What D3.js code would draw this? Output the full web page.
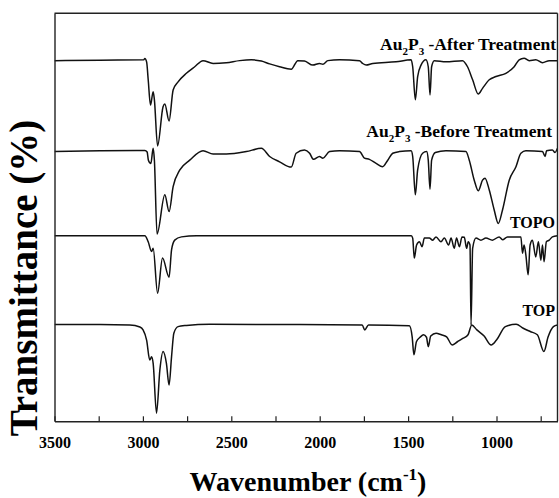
<!DOCTYPE html>
<html>
<head>
<meta charset="utf-8">
<script src="https://cdn.jsdelivr.net/npm/d3@7/dist/d3.min.js"></script>
<style>
  html, body { margin: 0; padding: 0; background: #fff; }
  svg { display: block; }
  text { font-family: "Liberation Serif", "Times New Roman", serif; font-weight: bold; fill: #000; }
</style>
</head>
<body>
<svg id="chart" width="559" height="498"></svg>
<script>
// ---- data: [wavenumber (cm-1), transmittance (a.u., stacked offset)] ----
const afterTreatment = [
  [3500,88.4],[3243,88.5],[2995,88.6],[2989,88.9],[2979,88.1],[2970,83.7],[2957,77.5],[2942,80.8],[2935,78.8],
  [2917,67.5],[2886,77.1],[2876,77.8],[2852,73.6],[2829,81.2],[2801,83.2],[2754,85.3],[2707,86.9],
  [2660,88.4],[2603,87.7],[2528,87.9],[2453,88.4],[2387,88.6],[2330,88.3],[2283,87.6],[2227,86.9],
  [2161,86.3],[2124,88.4],[2086,88.3],[2039,87.3],[2001,87.7],[1982,87.5],[1954,88.4],[1888,88.6],
  [1775,88.4],[1757,87.7],[1737,87.3],[1700,87.7],[1568,88.1],[1483,88.6],[1474,86.9],[1459,78.8],
  [1446,84.5],[1427,87.3],[1399,88.6],[1386,86.9],[1376,80.0],[1367,86.9],[1352,88.4],[1286,88.1],
  [1192,88.4],[1164,86.9],[1135,83.7],[1103,80.2],[1079,81.6],[1041,83.7],[1003,84.5],[947,85.3],
  [900,86.9],[872,88.6],[844,89.0],[815,88.4],[778,88.6],[740,87.9],[702,88.4],[655,88.4]
];
const beforeTreatment = [
  [3500,66.1],[3243,66.3],[2989,66.4],[2976,66.0],[2969,64.0],[2955,63.2],[2942,66.9],[2935,64.0],
  [2920,45.9],[2876,55.5],[2852,51.4],[2829,57.5],[2791,61.6],[2735,64.0],[2660,66.3],[2603,65.5],
  [2528,65.5],[2415,66.1],[2330,66.9],[2283,64.9],[2227,63.6],[2161,62.3],[2133,65.7],[2086,66.5],
  [2057,65.7],[2035,64.2],[2001,64.9],[1982,64.5],[1944,66.1],[1888,66.3],[1775,66.1],[1747,64.5],
  [1719,64.2],[1681,63.2],[1644,62.4],[1615,64.0],[1587,65.7],[1549,66.1],[1483,66.3],[1474,64.9],
  [1459,55.5],[1446,61.6],[1418,65.7],[1395,66.1],[1386,64.0],[1376,56.9],[1367,64.0],[1346,65.9],
  [1286,66.3],[1173,66.1],[1154,64.0],[1126,59.1],[1103,56.5],[1079,59.1],[1065,59.6],[1041,56.7],
  [1013,51.8],[990,48.5],[966,51.8],[928,59.1],[890,62.4],[862,65.7],[834,66.3],[740,66.1],
  [725,64.9],[717,66.3],[684,66.5],[669,65.9],[655,66.9]
];
const topo = [
  [3500,45.5],[3243,45.5],[2989,45.5],[2970,44.0],[2951,41.6],[2942,42.4],[2917,31.4],[2889,40.0],
  [2852,35.3],[2838,42.0],[2820,44.4],[2782,45.2],[2697,45.5],[1482,45.5],[1474,44.9],[1465,40.0],
  [1452,43.2],[1436,44.0],[1421,42.8],[1408,44.9],[1380,44.9],[1361,44.4],[1342,45.2],[1314,44.0],
  [1295,44.9],[1271,43.2],[1257,44.9],[1239,42.4],[1226,44.9],[1210,42.8],[1195,45.2],[1182,45.1],
  [1169,42.4],[1160,44.0],[1150,43.2],[1144,23.6],[1135,42.4],[1116,44.9],[1088,44.4],[1060,44.9],
  [1023,44.4],[985,45.2],[966,44.5],[938,45.2],[862,45.2],[853,41.2],[844,43.2],[834,40.8],
  [821,35.9],[810,43.2],[797,44.4],[778,40.3],[763,44.0],[749,39.5],[740,43.2],[731,39.1],
  [718,44.0],[702,44.4],[684,45.2],[655,45.5]
];
const top_ = [
  [3500,23.7],[3243,23.7],[3074,23.6],[3017,23.1],[2999,22.4],[2979,19.9],[2961,15.0],[2951,15.8],
  [2942,14.2],[2923,2.0],[2904,12.6],[2886,17.1],[2867,14.2],[2852,8.9],[2838,15.8],[2825,21.6],
  [2801,23.2],[2754,23.5],[2622,23.8],[2114,23.7],[1760,23.6],[1745,22.4],[1724,23.6],[1493,23.4],
  [1477,20.7],[1467,16.3],[1453,19.5],[1432,20.6],[1413,21.2],[1396,20.6],[1386,18.3],[1372,20.9],
  [1342,21.6],[1312,21.2],[1282,20.7],[1251,18.7],[1221,19.5],[1191,20.3],[1161,21.2],[1140,23.6],
  [1111,22.4],[1070,20.9],[1030,18.7],[1000,19.9],[950,23.2],[889,23.8],[849,22.8],[809,22.0],
  [769,21.2],[732,17.1],[708,20.7],[678,23.2],[655,23.6]
];
const seriesList = [afterTreatment, beforeTreatment, topo, top_];
const xTickValues = [3500,3250,3000,2750,2500,2250,2000,1750,1500,1250,1000,750];
const xLabelValues = [3500,3000,2500,2000,1500,1000];

// ---- layout ----
const svg = d3.select("#chart");
const left = 54.5, right = 557.5, topY = 13.3, bottom = 421.3;
const x = d3.scaleLinear().domain([3500, 655]).range([left, right]);
const y = d3.scaleLinear().domain([0, 100]).range([bottom, topY]);

svg.append("defs").append("clipPath").attr("id", "clip")
  .append("rect").attr("x", left).attr("y", topY).attr("width", right - left).attr("height", bottom - topY);

// spectra
const line = d3.line().x(d => x(d[0])).y(d => y(d[1])).curve(d3.curveMonotoneX);
svg.append("g").attr("clip-path", "url(#clip)")
  .selectAll("path").data(seriesList).join("path")
  .attr("d", line).attr("fill", "none").attr("stroke", "#111")
  .attr("stroke-width", 1.5).attr("stroke-linejoin", "round");

// axes
const xAxis = d3.axisBottom(x).tickValues(xTickValues)
  .tickFormat(d => xLabelValues.includes(d) ? d : "")
  .tickSizeInner(-5).tickSizeOuter(0).tickPadding(15);
const gx = svg.append("g").attr("transform", `translate(0,${bottom})`).call(xAxis);
gx.selectAll("text").style("font-size", "16px").style("font-family", '"Liberation Serif", serif').style("font-weight", "bold");
gx.select(".domain").attr("stroke", "#222").attr("stroke-width", 1.4);
gx.selectAll(".tick line").attr("stroke", "#222").attr("stroke-width", 1.2);

const yAxis = d3.axisLeft(y).tickValues([]).tickSizeOuter(0);
const gy = svg.append("g").attr("transform", `translate(${left},0)`).call(yAxis);
gy.select(".domain").attr("stroke", "#222").attr("stroke-width", 1.4);

svg.append("line").attr("x1", left).attr("x2", right).attr("y1", topY).attr("y2", topY)
  .attr("stroke", "#222").attr("stroke-width", 1.4);
svg.append("line").attr("x1", right).attr("x2", right).attr("y1", topY).attr("y2", bottom)
  .attr("stroke", "#222").attr("stroke-width", 1.4);

// axis titles
const xt = svg.append("text").attr("x", (left + right) / 2 + 2).attr("y", 491)
  .attr("text-anchor", "middle").style("font-size", "28px");
xt.append("tspan").text("Wavenumber (cm");
xt.append("tspan").text("-1").attr("dy", -11).style("font-size", "17px");
xt.append("tspan").text(")").attr("dy", 11);

svg.append("text").attr("transform", "translate(37,278) rotate(-90)")
  .attr("text-anchor", "middle").style("font-size", "39px").text("Transmittance (%)");

// series labels
function auLabel(xEnd, yBase, suffix) {
  const t = svg.append("text").attr("x", xEnd).attr("y", yBase).attr("text-anchor", "end").style("font-size", "17.5px");
  t.append("tspan").text("Au");
  t.append("tspan").text("2").attr("dy", 5).style("font-size", "11px");
  t.append("tspan").text("P").attr("dy", -5);
  t.append("tspan").text("3").attr("dy", 5).style("font-size", "11px");
  t.append("tspan").text(" " + suffix).attr("dy", -5);
}
auLabel(556, 50, "-After Treatment");
auLabel(552, 137, "-Before Treatment");
svg.append("text").attr("x", 555).attr("y", 228).attr("text-anchor", "end").style("font-size", "16px").text("TOPO");
svg.append("text").attr("x", 555).attr("y", 316).attr("text-anchor", "end").style("font-size", "16px").text("TOP");
</script>
</body>
</html>
